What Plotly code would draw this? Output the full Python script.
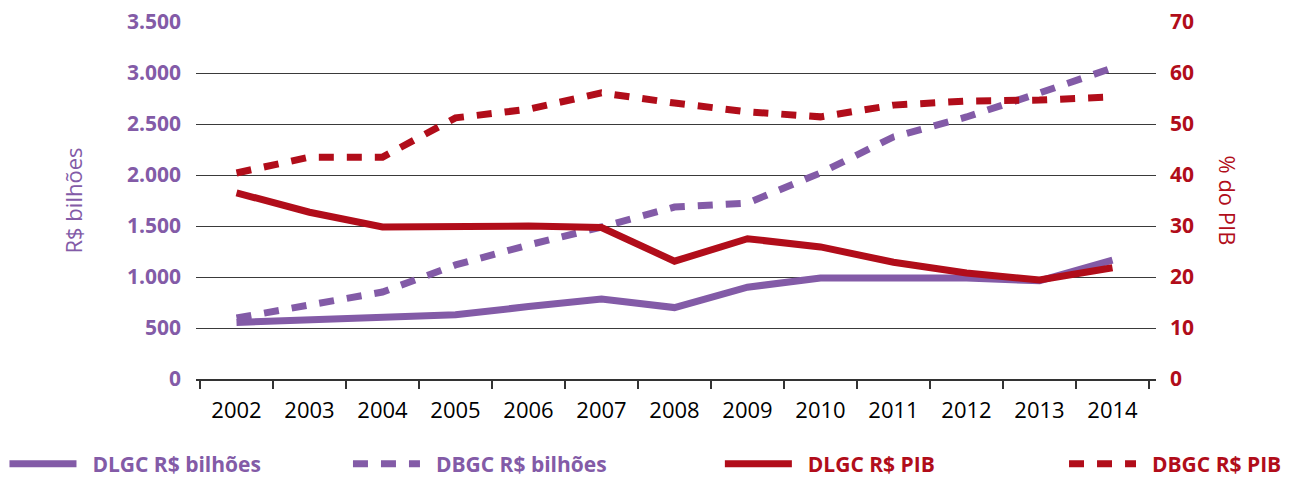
import plotly.graph_objects as go

years = ["2002", "2003", "2004", "2005", "2006", "2007", "2008",
         "2009", "2010", "2011", "2012", "2013", "2014"]
dlgc_bi = [555, 575, 598, 630, 710, 785, 700, 900, 990, 990, 990, 963, 1165]
dbgc_bi = [598, 725, 853, 1118, 1314, 1490, 1686, 1725, 2020, 2373, 2569, 2804, 3049]
dlgc_pib = [36.5, 32.7, 29.8, 30.0, 30.0, 29.7, 23.1, 27.5, 25.9, 22.9, 20.8, 19.4, 21.8]
dbgc_pib = [40.4, 43.5, 43.5, 51.2, 52.9, 56.1, 54.1, 52.4, 51.4, 53.7, 54.5, 54.7, 55.3]
series_names = ["DLGC R$ bilhões", "DBGC R$ bilhões", "DLGC R$ PIB", "DBGC R$ PIB"]

PURPLE = "#835ba7"
RED = "#b10d1a"
FONT = "Open Sans"
DASH = "15px,13px"
LW = 7
GAP = "\u00a0\u00a0"

fig = go.Figure()
fig.add_trace(go.Scatter(x=years, y=dlgc_bi, name=GAP + series_names[0], mode="lines",
                         line=dict(color=PURPLE, width=LW), yaxis="y", legend="legend"))
fig.add_trace(go.Scatter(x=years, y=dbgc_bi, name=GAP + series_names[1], mode="lines",
                         line=dict(color=PURPLE, width=LW, dash=DASH), yaxis="y", legend="legend2"))
fig.add_trace(go.Scatter(x=years, y=dlgc_pib, name=GAP + series_names[2], mode="lines",
                         line=dict(color=RED, width=LW), yaxis="y2", legend="legend3"))
fig.add_trace(go.Scatter(x=years, y=dbgc_pib, name=GAP + series_names[3], mode="lines",
                         line=dict(color=RED, width=LW, dash=DASH), yaxis="y2", legend="legend4"))


def leg(xpos, color):
    return dict(orientation="h", x=xpos, xanchor="left", y=-0.2955, yanchor="bottom",
                itemwidth=67, bgcolor="rgba(0,0,0,0)",
                font=dict(family=FONT, size=21, weight="bold", color=color))


fig.update_layout(
    width=1290, height=477,
    margin=dict(l=196, r=134, t=22, b=98, autoexpand=False),
    plot_bgcolor="white", paper_bgcolor="white",
    separators=",.",
    font=dict(family=FONT, size=19, color="#000"),
    xaxis=dict(type="category", tickson="boundaries", ticks="outside", ticklen=8,
               tickwidth=1.5, tickcolor="#333", showline=True, linecolor="#333",
               linewidth=1.5, showgrid=False, range=[-0.555, 12.596],
               tickfont=dict(family=FONT, size=22, color="#000"),
               ticklabelstandoff=11),
    yaxis=dict(range=[0, 3500], dtick=500, tickformat=",d", showgrid=True,
               gridcolor="#3a3a3a", gridwidth=1.3, zeroline=False,
               tickfont=dict(family=FONT, size=21, color=PURPLE, weight="bold"),
               ticklabelstandoff=14),
    yaxis2=dict(range=[0, 70], dtick=10, overlaying="y", side="right",
                showgrid=False, zeroline=False,
                tickfont=dict(family=FONT, size=21, color=RED, weight="bold"),
                ticklabelstandoff=13),
    legend=leg(-0.1995, PURPLE),
    legend2=leg(0.1583, PURPLE),
    legend3=leg(0.5457, RED),
    legend4=leg(0.9042, RED),
    showlegend=True,
)

fig.add_annotation(text="R$ bilhões", xref="paper", yref="paper", x=0, y=0.5,
                   xshift=-124, xanchor="center", yanchor="middle", textangle=-90,
                   showarrow=False, font=dict(family=FONT, size=22, color=PURPLE))
fig.add_annotation(text="% do PIB", xref="paper", yref="paper", x=1, y=0.5,
                   xshift=72, xanchor="center", yanchor="middle", textangle=90,
                   showarrow=False, font=dict(family=FONT, size=22, color=RED))

fig.write_html("out.html", config={"displayModeBar": False},
               post_script="document.body.style.margin='0';document.body.style.overflow='hidden';")
